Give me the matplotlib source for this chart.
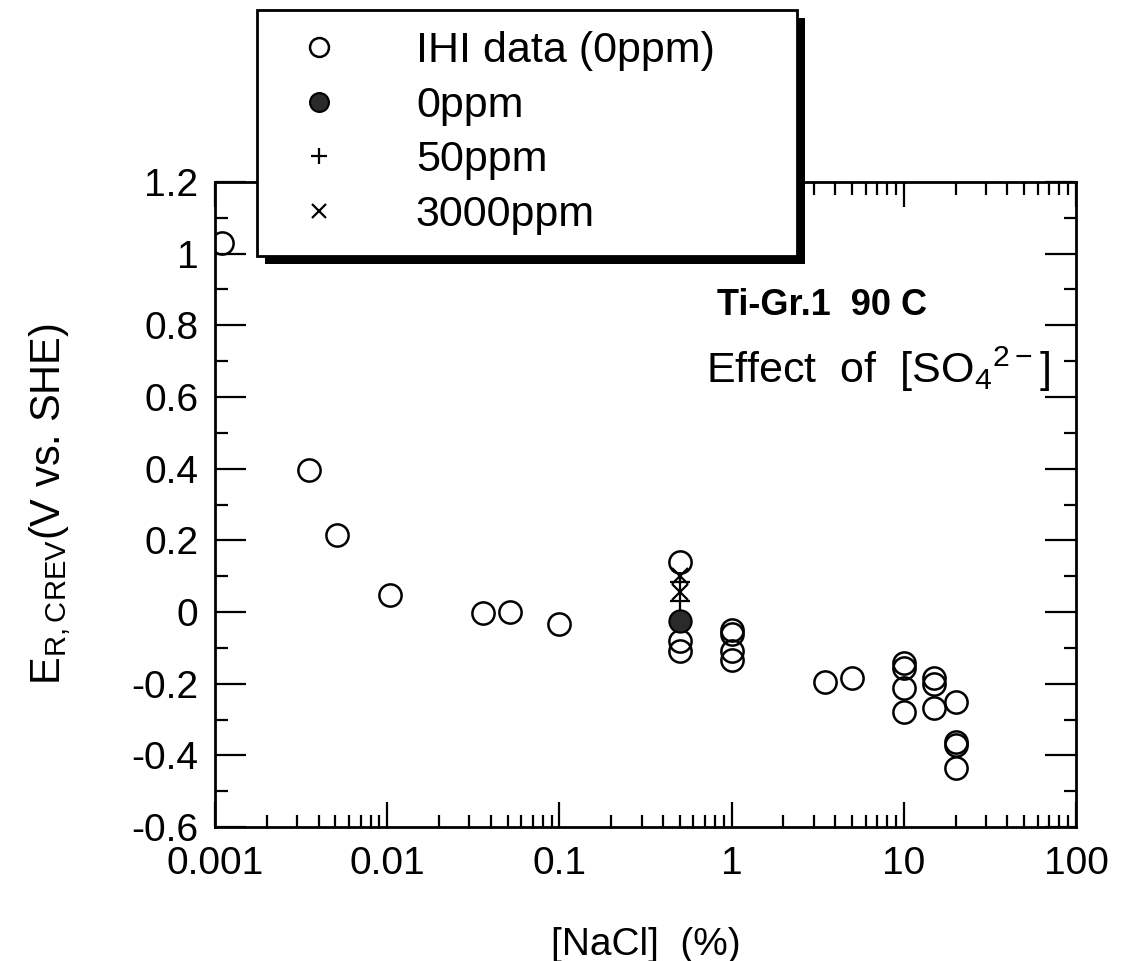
import matplotlib
matplotlib.use("Agg")
import matplotlib.pyplot as plt
from matplotlib.patches import Rectangle
from matplotlib.ticker import FixedLocator, FuncFormatter, LogLocator, NullFormatter, MultipleLocator

plt.rcParams['font.family'] = ['Liberation Sans', 'DejaVu Sans']

# IHI data (0ppm) - open circles
ihi_x = [0.0011, 0.0035, 0.0051, 0.0104, 0.036, 0.052, 0.1,
         0.5, 0.5, 0.5,
         1.0, 1.0, 1.0, 1.0,
         3.5, 5.0,
         10, 10, 10, 10,
         15, 15, 15,
         20, 20, 20, 20]
ihi_y = [1.03, 0.395, 0.215, 0.047, -0.003, 0.0, -0.034,
         0.14, -0.08, -0.11,
         -0.05, -0.06, -0.11, -0.135,
         -0.195, -0.184,
         -0.143, -0.157, -0.212, -0.28,
         -0.185, -0.2, -0.268,
         -0.25, -0.363, -0.372, -0.436]

# 0ppm (filled)
p0_x = [0.5]
p0_y = [-0.025]
# 50ppm (+)
p50_x = [0.5, 0.5]
p50_y = [0.085, 0.03]
# 3000ppm (x)
p3000_x = [0.5, 0.5]
p3000_y = [0.1, 0.055]

labels = ['IHI data (0ppm)', '0ppm', '50ppm', '3000ppm']
yticks = [1.2, 1.0, 0.8, 0.6, 0.4, 0.2, 0.0, -0.2, -0.4, -0.6]
xticks = [0.001, 0.01, 0.1, 1, 10, 100]
xtick_labels = ['0.001', '0.01', '0.1', '1', '10', '100']

W, H = 1121, 961
fig = plt.figure(figsize=(W / 100, H / 100), dpi=100)
ax = fig.add_axes([215 / W, 1 - 827 / H, (1076 - 215) / W, (827 - 182) / H])

h_ihi, = ax.plot(ihi_x, ihi_y, 'o', ms=16, mfc='none', mec='black', mew=1.8, ls='none', label=labels[0])
h0, = ax.plot(p0_x, p0_y, 'o', ms=16, mfc='#2a2a2a', mec='black', mew=1.5, ls='none', label=labels[1])
h50, = ax.plot(p50_x, p50_y, '+', ms=14, mec='black', mew=1.6, ls='none', label=labels[2])
h3000, = ax.plot(p3000_x, p3000_y, 'x', ms=12, mec='black', mew=1.6, ls='none', label=labels[3])

ax.set_xscale('log')
ax.set_xlim(0.001, 100)
ax.set_ylim(-0.6, 1.2)
ax.xaxis.set_major_locator(FixedLocator(xticks))
ax.set_xticklabels(xtick_labels)
ax.xaxis.set_minor_locator(LogLocator(base=10, subs=range(2, 10), numticks=20))
ax.xaxis.set_minor_formatter(NullFormatter())
ax.yaxis.set_major_locator(FixedLocator(yticks))
ax.yaxis.set_major_formatter(FuncFormatter(lambda v, p: '%g' % round(v, 2)))
ax.yaxis.set_minor_locator(MultipleLocator(0.1))

ax.tick_params(which='both', direction='in', top=True, right=True, labelsize=28, width=1.6, colors='black')
ax.tick_params(axis='y', which='major', length=22, pad=12)
ax.tick_params(axis='x', which='major', length=18, pad=14)
ax.tick_params(which='minor', length=9)
for s in ax.spines.values():
    s.set_linewidth(2)

ax.set_xlabel('[NaCl]  (%)', fontsize=28)
ax.xaxis.set_label_coords(0.5, -0.155)
ax.set_ylabel(r'E$_{\mathregular{R,CREV}}$(V vs. SHE)', fontsize=30)
ax.yaxis.set_label_coords(-0.165, 0.5)

ax.text(0.827, 0.809, 'Ti-Gr.1  90 C', transform=ax.transAxes, fontsize=26, fontweight='bold',
        ha='right', va='center')
ax.text(0.970, 0.688, r'Effect  of  [SO$_{\mathregular{4}}$$^{\mathregular{2-}}$]', transform=ax.transAxes,
        fontsize=31, ha='right', va='baseline')

leg = fig.legend(handles=[h_ihi, h0, h50, h3000], labels=labels,
                 loc='upper left', bbox_to_anchor=(257 / W, 1 - 10 / H, (797 - 257) / W, 0.0),
                 mode='expand',
                 bbox_transform=fig.transFigure, borderaxespad=0, fontsize=31,
                 frameon=True, fancybox=False, edgecolor='black', framealpha=1,
                 labelspacing=0.34, handletextpad=1.3, borderpad=0.49, handlelength=1.9,
                 markerscale=0.85)
leg.get_frame().set_linewidth(2)
leg.set_zorder(10)

fig.canvas.draw()
bb = leg.get_window_extent().transformed(fig.transFigure.inverted())
shadow = Rectangle((bb.x0 + 8 / W, bb.y0 - 8 / H), bb.width, bb.height, transform=fig.transFigure,
                   facecolor='black', edgecolor='none', zorder=9)
fig.add_artist(shadow)

fig.savefig('out.png', dpi=100)
